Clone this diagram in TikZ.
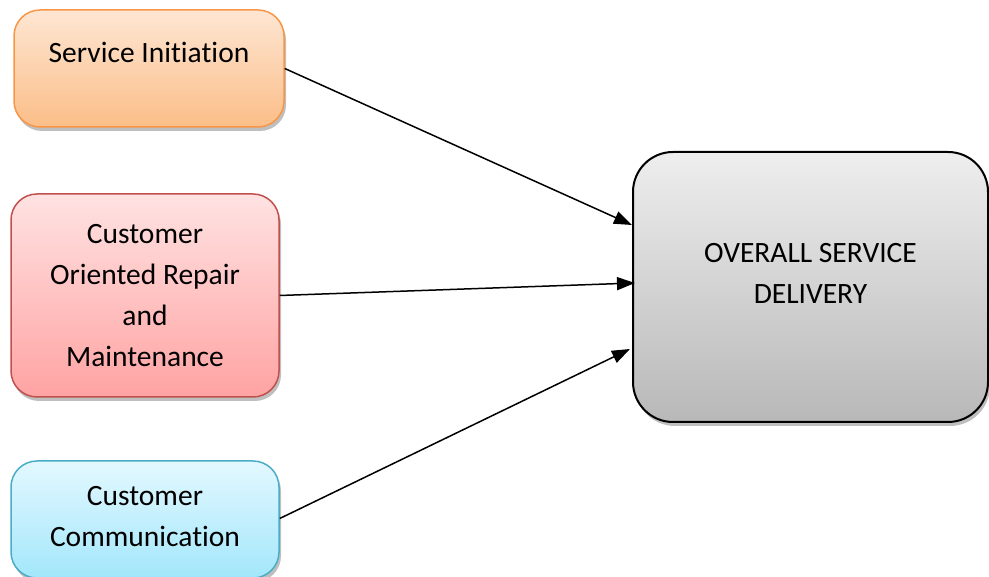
\documentclass[tikz,border=0pt]{standalone}
\usepackage{fontspec}
\setmainfont{Carlito}[Ligatures={NoCommon}]
\usepackage{tikz}
\usetikzlibrary{arrows.meta,positioning,calc,shadows}
\definecolor{orangeline}{HTML}{F79646}
\definecolor{orangetop}{HTML}{FEE6D3}
\definecolor{orangebot}{HTML}{FBBE88}
\definecolor{redline}{HTML}{C0504D}
\definecolor{redtop}{HTML}{FFE2E2}
\definecolor{redbot}{HTML}{FFA3A3}
\definecolor{blueline}{HTML}{4BACC6}
\definecolor{bluetop}{HTML}{E3F8FF}
\definecolor{bluebot}{HTML}{A3E7FB}
\definecolor{graytop}{HTML}{EEEEEE}
\definecolor{graybot}{HTML}{B8B8B8}
\tikzset{
  box/.style={rounded corners=26pt, line width=1.5pt, inner sep=0pt,
    drop shadow={shadow xshift=2pt, shadow yshift=-4pt, opacity=.25, fill=black}},
  boxo/.style={box, draw=orangeline, top color=orangetop, bottom color=orangebot},
  boxr/.style={box, draw=redline, top color=redtop, bottom color=redbot},
  boxb/.style={box, draw=blueline, top color=bluetop, bottom color=bluebot},
  boxg/.style={box, rounded corners=40pt, line width=2pt, draw=black, top color=graytop, bottom color=graybot},
  txt/.style={font=\fontsize{29.5}{41}\selectfont, align=center, inner sep=0pt},
  ar/.style={-{Triangle[length=18pt, width=13pt]}, line width=1.5pt, draw=black},
}

\begin{document}
\begin{tikzpicture}[x=1pt, y=1pt]
    \useasboundingbox (0,0) rectangle (989,577);

    % entradas
    \node[boxo, minimum width=270pt, minimum height=117pt] (si) at (149,508.5) {};
    \node[boxr, minimum width=268pt, minimum height=203pt] (corm) at (145,281.5) {};
    \node[boxb, minimum width=268pt, minimum height=117pt] (cc) at (145,57.5) {};
    \node[txt] (sitxt) at ([yshift=16pt]si.center) {Service Initiation};
    \node[txt] (cormtxt) at (corm.center) {Customer\\Oriented Repair\\and\\Maintenance};
    \node[txt] (cctxt) at ([yshift=3pt]cc.center) {Customer\\Communication};

    % salida
    \node[boxg, minimum width=355pt, minimum height=270pt] (osd) at (810.5,290) {};
    \node[txt] (osdtxt) at ([yshift=14pt]osd.center) {OVERALL SERVICE\\DELIVERY};

    % flechas
    \draw[ar] (si.east) -- ([yshift=62pt]osd.west);
    \draw[ar] (corm.east) -- ([xshift=3pt, yshift=4pt]osd.west);
    \draw[ar] ([yshift=1pt]cc.east) -- ([xshift=-2pt, yshift=-62pt]osd.west);
\end{tikzpicture}
\end{document}
